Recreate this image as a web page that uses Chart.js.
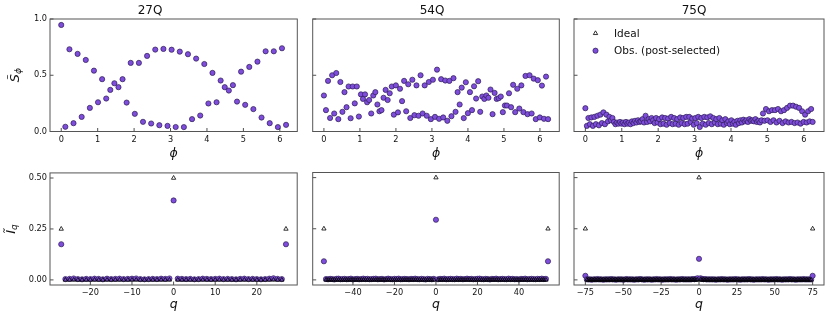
<!DOCTYPE html>
<html>
<head>
<meta charset="utf-8">
<script src="https://cdn.jsdelivr.net/npm/chart.js@4.4.1/dist/chart.umd.min.js"></script>
<style>
  body { margin: 0; background: #fff; width: 830px; height: 325px; position: relative; overflow: hidden; }
  canvas { position: absolute; }
</style>
</head>
<body>
<canvas id="s27" width="302" height="165" style="left:0;top:0"></canvas>
<canvas id="s54" width="262" height="165" style="left:302px;top:0"></canvas>
<canvas id="s75" width="266" height="165" style="left:564px;top:0"></canvas>
<canvas id="i27" width="302" height="160" style="left:0;top:165px"></canvas>
<canvas id="i54" width="262" height="160" style="left:302px;top:165px"></canvas>
<canvas id="i75" width="266" height="160" style="left:564px;top:165px"></canvas>
<script>
// ---- tick labels / titles
const TITLES = ['27Q', '54Q', '75Q']
const PHI_TICKS = [0, 1, 2, 3, 4, 5, 6]
const S_TICKS = [0, 0.5, 1]
const I_TICKS = [0, 0.25, 0.5]
const Q_TICKS_27 = [-20, -10, 0, 10, 20]
const Q_TICKS_54 = [-40, -20, 0, 20, 40]
const Q_TICKS_75 = [-75, -50, -25, 0, 25, 50, 75]

// ---- S_phi (observed), one value per phi on the grid 2*pi*k/N
const S_27 = [
  0.947, 0.042, 0.731, 0.074, 0.690, 0.130, 0.636, 0.210, 0.541, 0.260,
  0.465, 0.293, 0.370, 0.429, 0.394, 0.465, 0.257, 0.610, 0.157, 0.610,
  0.086, 0.672, 0.071, 0.728, 0.056, 0.734, 0.050, 0.727, 0.040, 0.710,
  0.039, 0.687, 0.110, 0.648, 0.142, 0.600, 0.249, 0.521, 0.260, 0.453,
  0.394, 0.364, 0.412, 0.266, 0.532, 0.237, 0.574, 0.199, 0.621, 0.124,
  0.713, 0.074, 0.713, 0.039, 0.740, 0.059
]
const S_54 = [
  0.32, 0.19, 0.45, 0.12, 0.50, 0.16, 0.52, 0.11, 0.44, 0.175,
  0.35, 0.216, 0.40, 0.118, 0.40, 0.25, 0.40, 0.133, 0.33, 0.29,
  0.33, 0.26, 0.28, 0.16, 0.32, 0.35, 0.24, 0.18, 0.19, 0.30,
  0.37, 0.28, 0.34, 0.40, 0.15, 0.41, 0.17, 0.38, 0.27, 0.45,
  0.18, 0.42, 0.12, 0.46, 0.145, 0.41, 0.14, 0.50, 0.16, 0.41,
  0.14, 0.44, 0.11, 0.46, 0.13, 0.55,
  0.113, 0.465, 0.125, 0.453, 0.095, 0.45, 0.136, 0.474, 0.175, 0.35,
  0.24, 0.39, 0.119, 0.438, 0.163, 0.35, 0.19, 0.402, 0.293, 0.447,
  0.175, 0.311, 0.29, 0.32, 0.30, 0.373, 0.154, 0.343, 0.29, 0.296,
  0.311, 0.172, 0.231, 0.231, 0.34, 0.216, 0.415, 0.172, 0.38, 0.204,
  0.41, 0.172, 0.494, 0.154, 0.50, 0.16, 0.47, 0.11, 0.456, 0.125,
  0.408, 0.113, 0.488, 0.11
]
const S_75 = [
  0.207,
  0.05, 0.12, 0.065, 0.125, 0.05, 0.13, 0.065, 0.14, 0.055, 0.15,
  0.075, 0.17, 0.065, 0.15, 0.09, 0.13, 0.10, 0.12, 0.085,
  0.065, 0.08, 0.07, 0.085, 0.07, 0.08, 0.065, 0.085, 0.07, 0.08,
  0.065, 0.09, 0.075, 0.095, 0.08, 0.10, 0.085,
  0.09, 0.11, 0.08, 0.14, 0.085, 0.11, 0.09, 0.12, 0.10,
  0.075, 0.12, 0.08, 0.11, 0.065, 0.125, 0.07, 0.12, 0.06, 0.115,
  0.075, 0.13, 0.065, 0.12, 0.07, 0.11, 0.06, 0.125, 0.075, 0.12,
  0.065, 0.13, 0.07, 0.13, 0.085, 0.115, 0.06, 0.12, 0.075, 0.13,
  0.04, 0.12, 0.07, 0.13, 0.06, 0.125, 0.075, 0.135, 0.065, 0.12,
  0.08, 0.11, 0.065, 0.12, 0.07, 0.10, 0.06, 0.11, 0.075, 0.09,
  0.065, 0.10, 0.07, 0.085, 0.06, 0.095, 0.075, 0.10, 0.08, 0.105,
  0.09, 0.10, 0.085, 0.11, 0.095,
  0.10, 0.09, 0.11, 0.085, 0.095, 0.08, 0.10,
  0.16, 0.095, 0.20, 0.10, 0.18, 0.085, 0.19, 0.10, 0.19, 0.08,
  0.20, 0.095, 0.18, 0.075, 0.19, 0.09, 0.21, 0.08, 0.23, 0.085,
  0.23, 0.075, 0.22, 0.08, 0.21, 0.07, 0.18, 0.085, 0.15, 0.08,
  0.18, 0.09, 0.20, 0.085
]

// ---- I_q, q = -L .. L
const IDEAL_27 = [
  0.25,
  0,0,0,0,0,0,0,0,0,0, 0,0,0,0,0,0,0,0,0,0, 0,0,0,0,0,0,
  0.5,
  0,0,0,0,0,0,0,0,0,0, 0,0,0,0,0,0,0,0,0,0, 0,0,0,0,0,0,
  0.25
]
const OBS_27 = [
  0.175,
  0.004,0.005,0.007,0.004,0.003,0.005,0.004,0.006,0.005,0.003,
  0.006,0.004,0.005,0.006,0.004,0.005,0.006,0.007,0.004,0.003,
  0.004,0.005,0.004,0.006,0.005,0.007,
  0.39,
  0.006,0.005,0.004,0.005,0.003,0.004,0.006,0.005,0.004,0.005,
  0.006,0.004,0.005,0.004,0.003,0.005,0.006,0.004,0.005,0.004,
  0.003,0.004,0.006,0.008,0.005,0.004,
  0.175
]
const IDEAL_54 = [
  0.25,
  0,0,0,0,0,0,0,0,0,0, 0,0,0,0,0,0,0,0,0,0, 0,0,0,0,0,0,0,0,0,0,
  0,0,0,0,0,0,0,0,0,0, 0,0,0,0,0,0,0,0,0,0, 0,0,0,
  0.5,
  0,0,0,0,0,0,0,0,0,0, 0,0,0,0,0,0,0,0,0,0, 0,0,0,0,0,0,0,0,0,0,
  0,0,0,0,0,0,0,0,0,0, 0,0,0,0,0,0,0,0,0,0, 0,0,0,
  0.25
]
const OBS_54 = [
  0.091,
  0.004,0.003,0.005,0.004,0.002,0.005,0.006,0.003,0.004,0.005,
  0.003,0.004,0.006,0.002,0.004,0.005,0.003,0.004,0.006,0.004,
  0.005,0.003,0.004,0.005,0.006,0.003,0.004,0.005,0.002,0.004,
  0.006,0.004,0.003,0.005,0.004,0.006,0.003,0.004,0.005,0.004,
  0.003,0.005,0.004,0.006,0.004,0.003,0.005,0.004,0.002,0.005,
  0.004,0.003,0.005,
  0.294,
  0.003,0.005,0.004,0.006,0.003,0.004,0.005,0.004,0.003,0.006,
  0.004,0.005,0.003,0.004,0.006,0.004,0.005,0.003,0.004,0.005,
  0.006,0.004,0.003,0.005,0.004,0.002,0.005,0.004,0.006,0.003,
  0.004,0.005,0.004,0.003,0.006,0.004,0.005,0.003,0.004,0.002,
  0.005,0.004,0.006,0.003,0.004,0.005,0.004,0.003,0.005,0.004,
  0.006,0.004,0.005,
  0.091
]
const IDEAL_75 = [
  0.25,
  0,0,0,0,0,0,0,0,0,0, 0,0,0,0,0,0,0,0,0,0, 0,0,0,0,0,0,0,0,0,0,
  0,0,0,0,0,0,0,0,0,0, 0,0,0,0,0,0,0,0,0,0, 0,0,0,0,0,0,0,0,0,0,
  0,0,0,0,0,0,0,0,0,0, 0,0,0,0,
  0.5,
  0,0,0,0,0,0,0,0,0,0, 0,0,0,0,0,0,0,0,0,0, 0,0,0,0,0,0,0,0,0,0,
  0,0,0,0,0,0,0,0,0,0, 0,0,0,0,0,0,0,0,0,0, 0,0,0,0,0,0,0,0,0,0,
  0,0,0,0,0,0,0,0,0,0, 0,0,0,0,
  0.25
]
const OBS_75 = [
  0.02,
  0.003,0.002,0.003,0.001,0.002,0.003,0.002,0.004,0.002,0.003,
  0.002,0.001,0.003,0.002,0.003,0.002,0.004,0.002,0.003,0.001,
  0.002,0.003,0.002,0.003,0.001,0.002,0.004,0.002,0.003,0.002,
  0.003,0.001,0.002,0.003,0.002,0.004,0.003,0.002,0.001,0.003,
  0.002,0.003,0.002,0.001,0.003,0.002,0.004,0.002,0.003,0.002,
  0.001,0.003,0.002,0.003,0.002,0.004,0.002,0.003,0.002,0.001,
  0.003,0.002,0.003,0.004,0.002,0.003,0.002,0.003,0.002,0.003,
  0.004,0.003,0.005,0.008,
  0.103,
  0.008,0.005,0.003,0.004,0.002,0.003,0.002,0.003,0.002,0.003,
  0.001,0.002,0.003,0.002,0.004,0.002,0.003,0.002,0.001,0.003,
  0.002,0.003,0.002,0.004,0.002,0.003,0.001,0.002,0.003,0.002,
  0.003,0.002,0.004,0.002,0.003,0.001,0.002,0.003,0.002,0.003,
  0.002,0.004,0.002,0.003,0.002,0.001,0.003,0.002,0.003,0.002,
  0.004,0.002,0.003,0.002,0.001,0.003,0.002,0.003,0.002,0.004,
  0.002,0.003,0.002,0.001,0.003,0.002,0.003,0.002,0.004,0.002,
  0.003,0.002,0.003,0.002,
  0.02
]

// ---- styles
const FONT = '"DejaVu Sans", sans-serif'
const INK = '#111'
const TRI = { pointStyle: 'triangle', pointRadius: 2.5, backgroundColor: 'rgba(0,0,0,0)', borderColor: '#000', borderWidth: 0.8 }
const DOT = { pointStyle: 'circle', pointRadius: 2.6, backgroundColor: '#7f4ddb', borderColor: '#2d1d55', borderWidth: 0.7 }

// phi grid and q grid (positions on the x axis)
const phiGrid = n => Array.from({ length: n }, (_, k) => 2 * Math.PI * k / n)
const qGrid = n => Array.from({ length: n }, (_, k) => k - (n - 1) / 2)
const pts = (xs, ys) => ys.map((y, i) => ({ x: xs[i], y }))
const margin = xs => { const lo = Math.min(...xs), hi = Math.max(...xs), d = 0.05 * (hi - lo); return [lo - d, hi + d] }
const minus = v => String(v).replace('-', '\u2212')

// box + inward ticks
const frame = {
  id: 'frame',
  afterDatasetsDraw(chart) {
    const { ctx, chartArea: a, scales: { x, y } } = chart
    ctx.save()
    ctx.strokeStyle = '#222'
    ctx.lineWidth = 0.8
    ctx.beginPath()
    x.ticks.forEach(t => { const p = x.getPixelForValue(t.value); ctx.moveTo(p, a.bottom); ctx.lineTo(p, a.bottom - 3.5) })
    y.ticks.forEach(t => { const p = y.getPixelForValue(t.value); ctx.moveTo(a.left, p); ctx.lineTo(a.left + 3.5, p) })
    ctx.stroke()
    ctx.strokeStyle = '#555'
    ctx.lineWidth = 1
    ctx.strokeRect(a.left, a.top, a.right - a.left, a.bottom - a.top)
    ctx.restore()
  }
}

// rotated y label with subscript
const ylab = {
  id: 'ylab',
  afterDraw(chart, args, o) {
    if (!o.main) return
    const { ctx, chartArea: a } = chart
    const big = 'italic 13px ' + FONT, small = 'italic 9px ' + FONT
    ctx.save()
    ctx.translate(o.x, (a.top + a.bottom) / 2)
    ctx.rotate(-Math.PI / 2)
    ctx.fillStyle = INK
    ctx.font = big
    const w1 = ctx.measureText(o.main).width
    ctx.font = small
    const w2 = ctx.measureText(o.sub).width
    const x0 = -(w1 + w2) / 2
    ctx.font = big
    ctx.fillText(o.main, x0, 4.5)
    ctx.font = small
    ctx.fillText(o.sub, x0 + w1, 7)
    ctx.restore()
  }
}

// legend inside the plot, upper left
const keys = {
  id: 'keys',
  afterDraw(chart, args, o) {
    if (!o.show) return
    const { ctx, chartArea: a } = chart
    ctx.save()
    chart.data.datasets.forEach((ds, i) => {
      const cy = a.top + 14.3 + i * 17.4, cx = a.left + 21.5
      ctx.beginPath()
      if (ds.pointStyle === 'triangle') {
        const r = ds.pointRadius
        ctx.moveTo(cx, cy - r)
        ctx.lineTo(cx + r * 0.866, cy + r * 0.5)
        ctx.lineTo(cx - r * 0.866, cy + r * 0.5)
        ctx.closePath()
      } else {
        ctx.arc(cx, cy, ds.pointRadius, 0, Math.PI * 2)
        ctx.fillStyle = ds.backgroundColor
        ctx.fill()
      }
      ctx.strokeStyle = ds.borderColor
      ctx.lineWidth = ds.borderWidth
      ctx.stroke()
      ctx.fillStyle = INK
      ctx.font = '10.5px ' + FONT
      ctx.textBaseline = 'middle'
      ctx.fillText(ds.label, a.left + 40, cy + 0.5)
    })
    ctx.restore()
  }
}

function panel(id, o) {
  const [xmin, xmax] = margin(o.xs)
  new Chart(document.getElementById(id), {
    type: 'scatter',
    data: {
      datasets: [
        { label: 'Ideal', data: o.ideal ? pts(o.xs, o.ideal) : [], ...TRI },
        { label: 'Obs. (post-selected)', data: pts(o.xs, o.obs), ...DOT }
      ]
    },
    options: {
      responsive: false,
      animation: false,
      events: [],
      devicePixelRatio: 1,
      layout: { padding: { top: o.padTop, right: o.padRight, left: 0, bottom: 0 } },
      plugins: {
        legend: { display: false },
        tooltip: { enabled: false },
        title: o.title
          ? { display: true, text: o.title, color: INK, font: { family: FONT, size: 12, weight: 'normal' }, padding: { top: 3.8, bottom: 0.8 } }
          : { display: false },
        ylab: o.ylab || {},
        keys: { show: !!o.keys }
      },
      scales: {
        x: {
          type: 'linear', min: xmin, max: xmax,
          afterBuildTicks: s => { s.ticks = o.xt.map(v => ({ value: v })) },
          afterFit: s => { s.height = o.xh },
          grid: { display: false, drawTicks: false },
          border: { display: false },
          ticks: { color: INK, font: { family: FONT, size: 8.2 }, padding: 3, maxRotation: 0, callback: v => minus(v) },
          title: { display: true, text: o.xlab, color: INK, font: { family: FONT, size: 12.5, style: 'italic' }, padding: { top: 0, bottom: o.xtPad } }
        },
        y: {
          type: 'linear', min: o.ymin, max: o.ymax,
          afterBuildTicks: s => { s.ticks = o.yt.map(v => ({ value: v })) },
          afterFit: s => { s.width = o.yw },
          grid: { display: false, drawTicks: false },
          border: { display: false },
          ticks: { display: o.ylabels, color: INK, font: { family: FONT, size: 8.2 }, padding: 3, callback: v => v.toFixed(o.dec) }
        }
      }
    },
    plugins: [frame, ylab, keys]
  })
}

const COLS = [
  { yw: 50, padRight: 2, ylabels: true },
  { yw: 10.7, padRight: 2, ylabels: false },
  { yw: 10, padRight: 6, ylabels: false }
]
const TOP = { padTop: 0, xh: 33.5, xlab: '\u03d5', xtPad: 4, xt: PHI_TICKS, yt: S_TICKS, ymin: 0, ymax: 1, dec: 1 }
const BOT = { padTop: 7.5, xh: 40, xlab: 'q', xtPad: 12.5, yt: I_TICKS, ymin: -0.025, ymax: 0.525, dec: 2 }

panel('s27', { ...TOP, ...COLS[0], title: TITLES[0], xs: phiGrid(S_27.length), obs: S_27, ylab: { main: 'S\u0303', sub: '\u03d5', x: 14 } })
panel('s54', { ...TOP, ...COLS[1], title: TITLES[1], xs: phiGrid(S_54.length), obs: S_54 })
panel('s75', { ...TOP, ...COLS[2], title: TITLES[2], xs: phiGrid(S_75.length), obs: S_75, keys: true })
panel('i27', { ...BOT, ...COLS[0], xt: Q_TICKS_27, xs: qGrid(OBS_27.length), obs: OBS_27, ideal: IDEAL_27, ylab: { main: 'I\u0303', sub: 'q', x: 10 } })
panel('i54', { ...BOT, ...COLS[1], xt: Q_TICKS_54, xs: qGrid(OBS_54.length), obs: OBS_54, ideal: IDEAL_54 })
panel('i75', { ...BOT, ...COLS[2], xt: Q_TICKS_75, xs: qGrid(OBS_75.length), obs: OBS_75, ideal: IDEAL_75 })
</script>
</body>
</html>
